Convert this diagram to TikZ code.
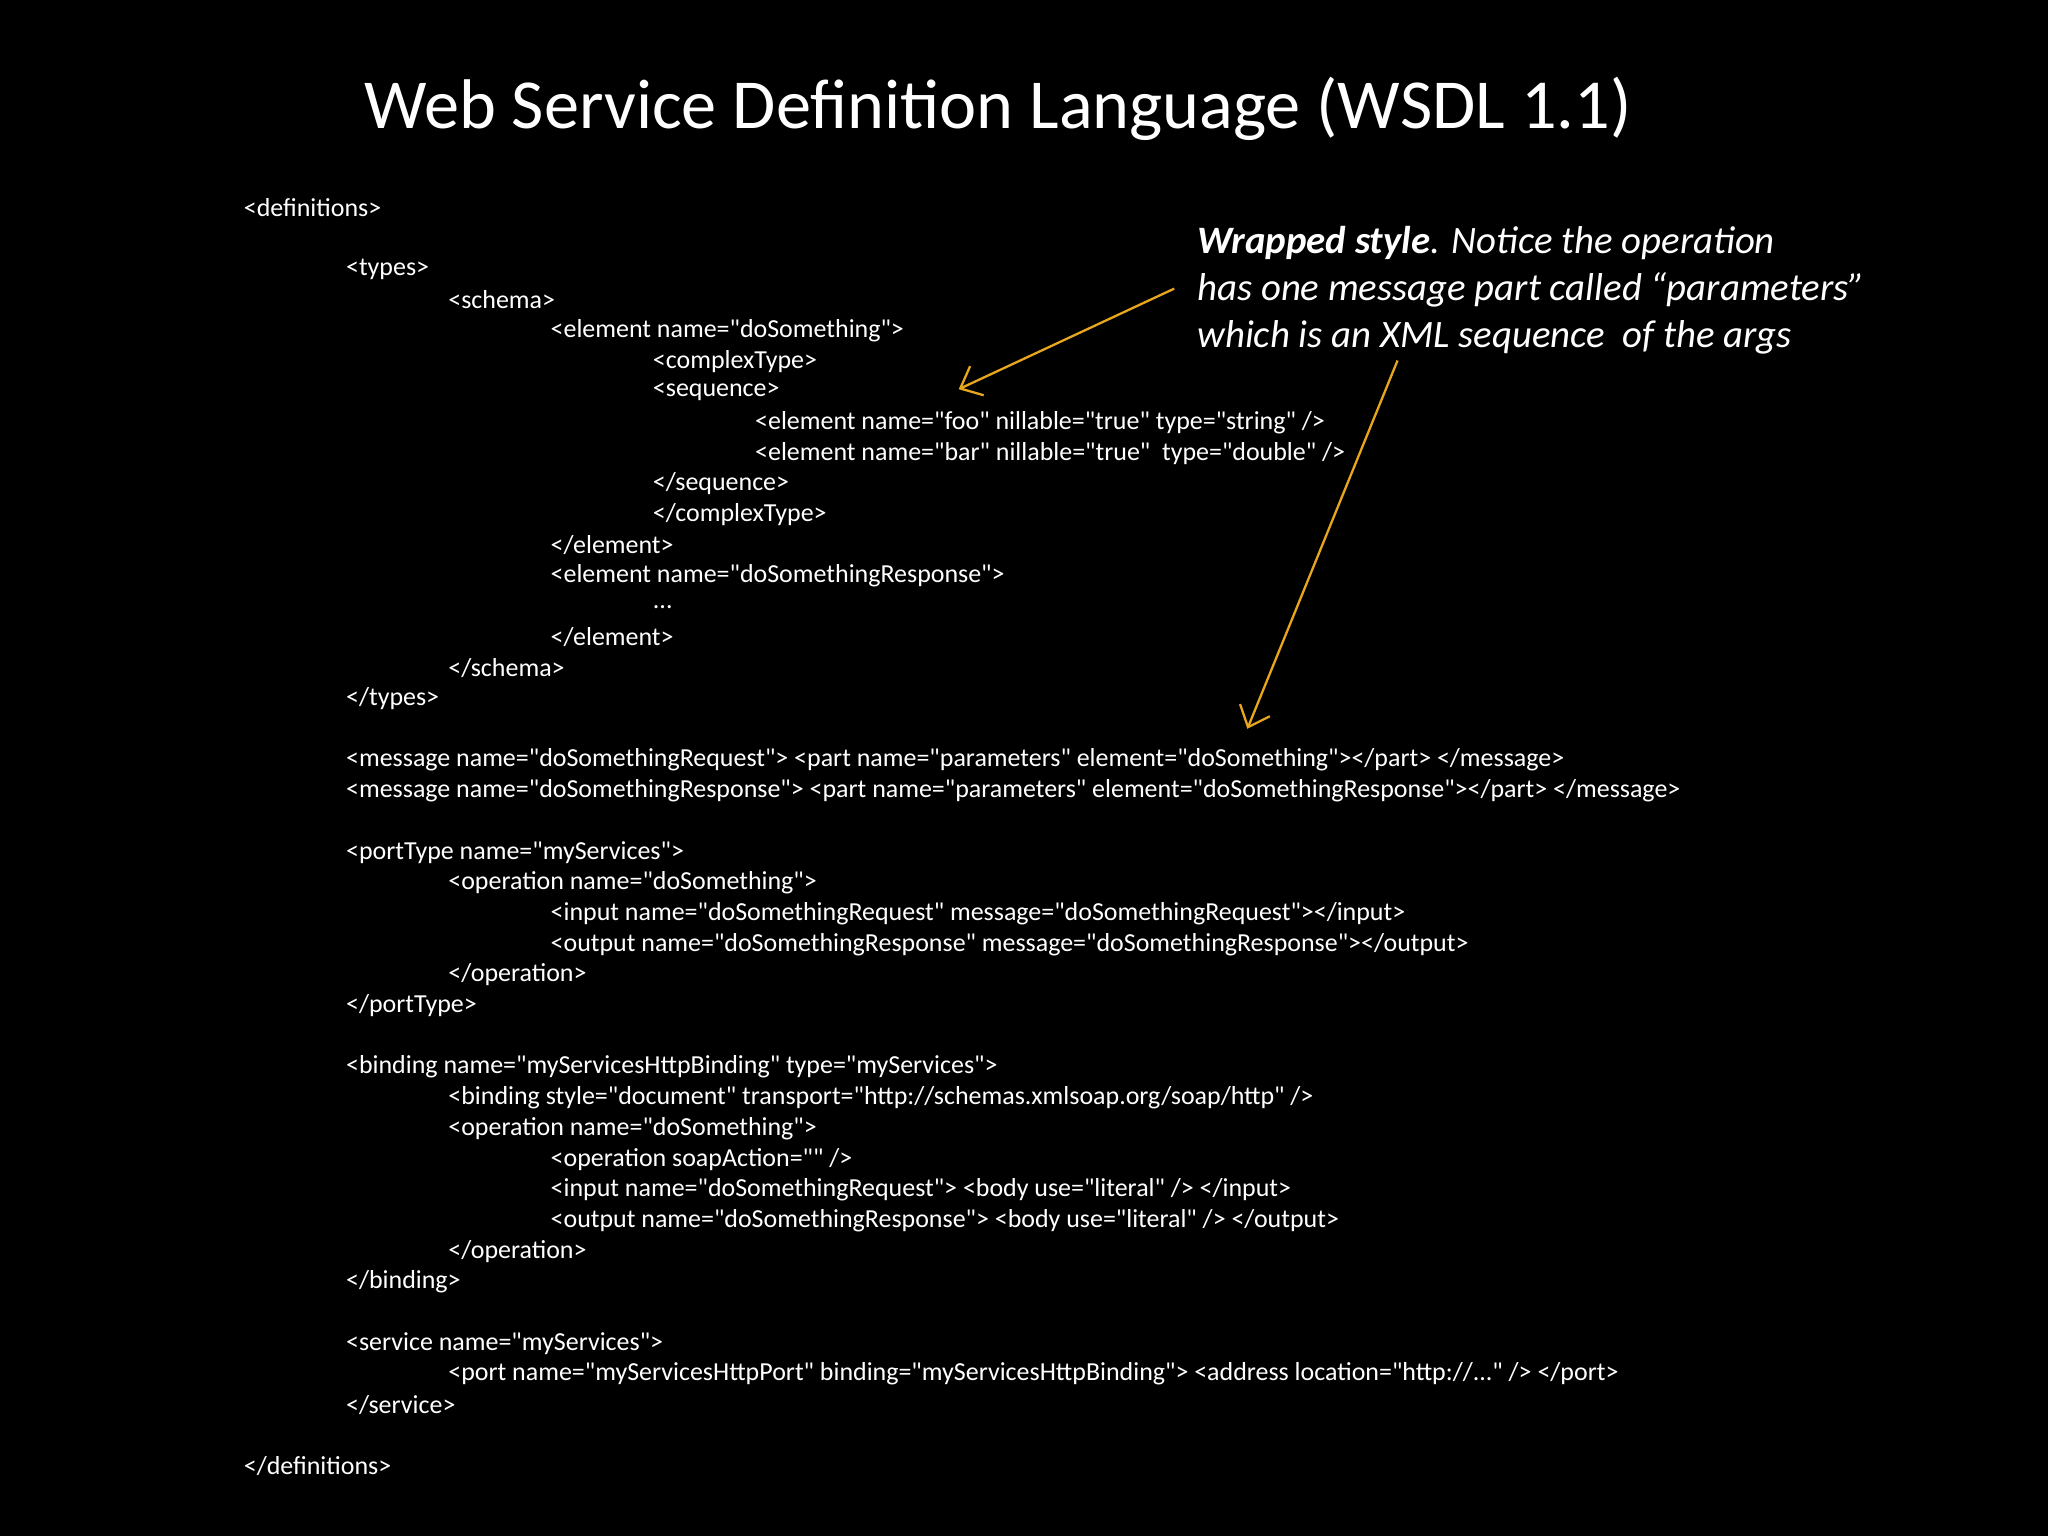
\documentclass[tikz,border=0pt]{standalone}
\usepackage{fontspec}
\usetikzlibrary{arrows.meta}
\setmainfont{Carlito}
\newfontfamily\codefont{Carlito}
\definecolor{arr}{HTML}{E8A61C}
\newcommand{\codeline}[4]{\node[code] (#1) at ({186+78.3*#2},{159+23.5*#3}) {#4};}
\begin{document}
\begin{tikzpicture}[x=0.01cm,y=-0.01cm,
  code/.style={anchor=west,inner sep=0pt,text=white,font=\codefont\fontsize{5.65pt}{6.5pt}\selectfont},
  note/.style={anchor=west,inner sep=0pt,text=white,font=\fontsize{8.45pt}{10pt}\selectfont\itshape},
  conn/.style={draw=arr,line width=0.5pt,-{Straight Barb[length=4pt,width=7pt]}}]
\fill[black] (0,0) rectangle (1568,1176);
\node[text=white,font=\fontsize{15.3pt}{18pt}\selectfont,inner sep=0pt] (title) at (764,83) {Web Service Definition Language (WSDL 1.1)};
\codeline{l0}{0}{0}{<definitions>}
\codeline{l2}{1}{2}{<types>}
\codeline{l3}{2}{3}{<schema>}
\codeline{l4}{3}{4}{<element name="doSomething">}
\codeline{l5}{4}{5}{<complexType>}
\codeline{l6}{4}{6}{<sequence>}
\codeline{l7}{5}{7}{<element name="foo" nillable="true" type="string" />}
\codeline{l8}{5}{8}{<element name="bar" nillable="true"~ type="double" />}
\codeline{l9}{4}{9}{</sequence>}
\codeline{l10}{4}{10}{</complexType>}
\codeline{l11}{3}{11}{</element>}
\codeline{l12}{3}{12}{<element name="doSomethingResponse">}
\codeline{l13}{4}{13}{...}
\codeline{l14}{3}{14}{</element>}
\codeline{l15}{2}{15}{</schema>}
\codeline{l16}{1}{16}{</types>}
\codeline{l18}{1}{18}{<message name="doSomethingRequest"> <part name="parameters" element="doSomething"></part> </message>}
\codeline{l19}{1}{19}{<message name="doSomethingResponse"> <part name="parameters" element="doSomethingResponse"></part> </message>}
\codeline{l21}{1}{21}{<portType name="myServices">}
\codeline{l22}{2}{22}{<operation name="doSomething">}
\codeline{l23}{3}{23}{<input name="doSomethingRequest" message="doSomethingRequest"></input>}
\codeline{l24}{3}{24}{<output name="doSomethingResponse" message="doSomethingResponse"></output>}
\codeline{l25}{2}{25}{</operation>}
\codeline{l26}{1}{26}{</portType>}
\codeline{l28}{1}{28}{<binding name="myServicesHttpBinding" type="myServices">}
\codeline{l29}{2}{29}{<binding style="document" transport="http://schemas.xmlsoap.org/soap/http" />}
\codeline{l30}{2}{30}{<operation name="doSomething">}
\codeline{l31}{3}{31}{<operation soapAction="" />}
\codeline{l32}{3}{32}{<input name="doSomethingRequest"> <body use="literal" /> </input>}
\codeline{l33}{3}{33}{<output name="doSomethingResponse"> <body use="literal" /> </output>}
\codeline{l34}{2}{34}{</operation>}
\codeline{l35}{1}{35}{</binding>}
\codeline{l37}{1}{37}{<service name="myServices">}
\codeline{l38}{2}{38}{<port name="myServicesHttpPort" binding="myServicesHttpBinding"> <address location="http://..." /> </port>}
\codeline{l39}{1}{39}{</service>}
\codeline{l41}{0}{41}{</definitions>}
\node[note] (n1) at (916,186) {\textbf{Wrapped style}. Notice the operation};
\node[note] (n2) at (916,222) {has one message part called “parameters”};
\node[note] (n3) at (916,258) {which is an XML sequence~ of the args};
\coordinate (a1s) at (899,221);
\coordinate (a1e) at (734,298);
\coordinate (a2s) at (1070,276);
\coordinate (a2e) at (955,558);
\draw[conn] (a1s) -- (a1e);
\draw[conn] (a2s) -- (a2e);
\end{tikzpicture}
\end{document}
